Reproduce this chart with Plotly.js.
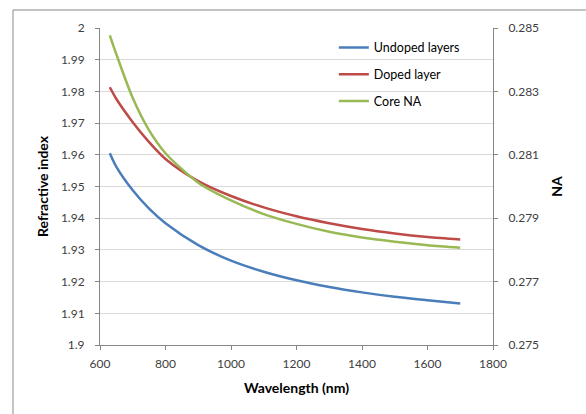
<!DOCTYPE html>
<html>
<head>
<meta charset="utf-8">
<script src="https://cdn.plot.ly/plotly-3.0.1.min.js"></script>
<style>html,body{margin:0;padding:0;background:#fff;}#chart{width:586px;height:414px;}</style>
</head>
<body>
<div id="chart"></div>
<script>
var wavelength = [630, 650, 700, 750, 800, 900, 1000, 1100, 1200, 1300, 1400, 1500, 1600, 1700];
var undopedIndex = [1.9605, 1.9562, 1.9488, 1.9430, 1.9384, 1.9315, 1.9266, 1.9231, 1.9204, 1.9183, 1.9166, 1.9152, 1.9141, 1.9131];
var dopedIndex = [1.9813, 1.9776, 1.9703, 1.9640, 1.9587, 1.9517, 1.9470, 1.9434, 1.9406, 1.9384, 1.9366, 1.9352, 1.9341, 1.9333];
var coreNA = [0.28477, 0.28417, 0.28279, 0.28177, 0.28105, 0.28012, 0.27956, 0.27913, 0.27882, 0.27857, 0.27839, 0.27826, 0.27815, 0.27807];

var seriesNames = ["Undoped layers", "Doped layer", "Core NA"];
var xTicks = [600, 800, 1000, 1200, 1400, 1600, 1800];
var xTickLabels = ["600", "800", "1000", "1200", "1400", "1600", "1800"];
var yTicks = [1.9, 1.91, 1.92, 1.93, 1.94, 1.95, 1.96, 1.97, 1.98, 1.99, 2.0];
var yTickLabels = ["1.9", "1.91", "1.92", "1.93", "1.94", "1.95", "1.96", "1.97", "1.98", "1.99", "2"];
var y2Ticks = [0.275, 0.277, 0.279, 0.281, 0.283, 0.285];
var y2TickLabels = ["0.275", "0.277", "0.279", "0.281", "0.283", "0.285"];

var FONT = "Lato, 'Open Sans', sans-serif";

var traces = [
  {x: wavelength, y: undopedIndex, name: seriesNames[0], mode: "lines", line: {color: "#4a7ebb", width: 2.5, shape: "spline", smoothing: 0.8}, legendgroup: "a"},
  {x: wavelength, y: dopedIndex, name: seriesNames[1], mode: "lines", line: {color: "#be4b48", width: 2.5, shape: "spline", smoothing: 0.8}, legendgroup: "b"},
  {x: wavelength, y: coreNA, name: seriesNames[2], yaxis: "y2", mode: "lines", line: {color: "#98b954", width: 2.5, shape: "spline", smoothing: 0.8}, legendgroup: "c"}
];

var layout = {
  width: 586, height: 414,
  margin: {l: 100, r: 93, t: 28, b: 69},
  paper_bgcolor: "#fff", plot_bgcolor: "#fff",
  font: {family: FONT, color: "#404040", size: 12},
  showlegend: true,
  legend: {x: 0.595, y: 0.985, xanchor: "left", yanchor: "top", bgcolor: "rgba(0,0,0,0)",
           font: {family: FONT, size: 12.5, color: "#000"}, tracegroupgap: 7.5, traceorder: "grouped"},
  xaxis: {range: [600, 1800], tickvals: xTicks, ticktext: xTickLabels, showgrid: false, zeroline: false,
          showline: true, linecolor: "#868686", linewidth: 1, ticks: "outside", ticklen: 4, tickcolor: "#868686",
          tickfont: {size: 12, color: "#404040"}, ticklabelstandoff: 4,
          title: {text: "Wavelength (nm)", font: {family: FONT, size: 14, color: "#000", weight: "bold"}, standoff: 12}},
  yaxis: {range: [1.9, 2.0], tickvals: yTicks, ticktext: yTickLabels, showgrid: true, gridcolor: "#d9d9d9", gridwidth: 1,
          zeroline: false, showline: true, linecolor: "#868686", linewidth: 1, ticks: "outside", ticklen: 4, tickcolor: "#868686",
          tickfont: {size: 12, color: "#404040"}, ticklabelstandoff: 8,
          title: {text: "Refractive index", font: {family: FONT, size: 14, color: "#000", weight: "bold"}, standoff: 8}},
  yaxis2: {range: [0.275, 0.285], overlaying: "y", side: "right", tickvals: y2Ticks, ticktext: y2TickLabels, showgrid: false,
           zeroline: false, showline: true, linecolor: "#868686", linewidth: 1, ticks: "outside", ticklen: 4, tickcolor: "#868686",
           tickfont: {size: 12, color: "#404040"}, ticklabelstandoff: 8,
           title: {text: "NA", font: {family: FONT, size: 14, color: "#000", weight: "bold"}, standoff: 14}},
  shapes: [
    {type: "rect", xref: "paper", yref: "paper", x0: -0.2214, x1: 1.4, y0: -0.4, y1: 1.0568,
     line: {color: "#898989", width: 1}, fillcolor: "rgba(0,0,0,0)", layer: "below"}
  ]
};

Plotly.newPlot("chart", traces, layout, {displayModeBar: false, staticPlot: true});
</script>
</body>
</html>
